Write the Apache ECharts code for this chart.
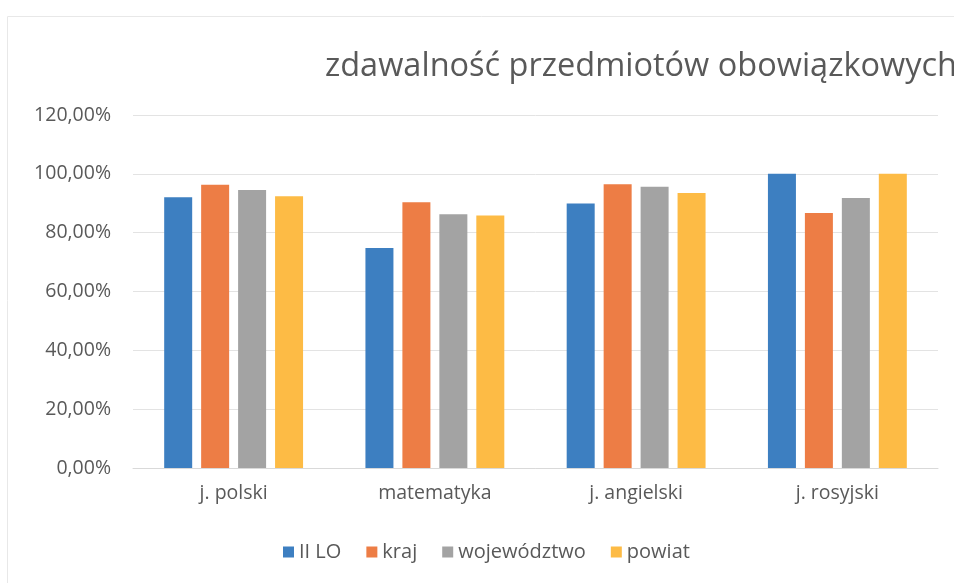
<!DOCTYPE html>
<html><head><meta charset="utf-8">
<script src="https://cdn.jsdelivr.net/npm/echarts@6/dist/echarts.min.js"></script>
<style>html,body{margin:0;padding:0;background:#fff}#c{width:954px;height:583px}</style>
</head><body><div id="c"></div>
<script>
const categories = ["j. polski", "matematyka", "j. angielski", "j. rosyjski"];
const seriesNames = ["II LO", "kraj", "województwo", "powiat"];
const valsIILO = [92.0, 74.8, 89.9, 100.0];
const valsKraj = [96.3, 90.3, 96.5, 86.7];
const valsWoj = [94.5, 86.3, 95.6, 91.8];
const valsPowiat = [92.4, 85.8, 93.5, 100.0];
const colors = ["#3d7fc1", "#ed7d45", "#a3a3a3", "#fdbb45"];
const titleText = "zdawalność przedmiotów obowiązkowych";

const FONT = '"Open Sans"';
const chart = echarts.init(document.getElementById('c'));
const allVals = [valsIILO, valsKraj, valsWoj, valsPowiat];
chart.setOption({
  animation: false,
  textStyle: {fontFamily: FONT},
  graphic: [{type: 'rect', left: 5, top: 14, shape: {width: 1000, height: 600},
    style: {fill: 'none', stroke: '#e8e8e8', lineWidth: 1}, silent: true}],
  title: {text: titleText, left: 320, top: 45,
    textStyle: {fontFamily: FONT, fontSize: 32.5, fontWeight: 'normal', color: '#595959'}},
  legend: {data: seriesNames, bottom: 16, left: 278, itemWidth: 11, itemHeight: 11, itemGap: 25,
    icon: 'rect', textStyle: {fontFamily: FONT, fontSize: 20, color: '#595959'}},
  grid: {left: 133, right: 16, top: 115, bottom: 115},
  xAxis: {type: 'category', data: categories,
    axisLine: {lineStyle: {color: '#d9d9d9'}}, axisTick: {show: false},
    axisLabel: {fontFamily: FONT, fontSize: 19.5, color: '#595959', margin: 15}},
  yAxis: {type: 'value', min: 0, max: 120, interval: 20,
    axisLabel: {fontFamily: FONT, fontSize: 19.5, color: '#595959', margin: 22,
      formatter: v => v.toFixed(2).replace('.', ',') + '%'},
    splitLine: {lineStyle: {color: '#e3e3e3'}}},
  color: colors,
  series: seriesNames.map((n, i) => ({name: n, type: 'bar', data: allVals[i],
    barWidth: 28, barGap: '32%', itemStyle: {color: colors[i]}}))
});
</script></body></html>
